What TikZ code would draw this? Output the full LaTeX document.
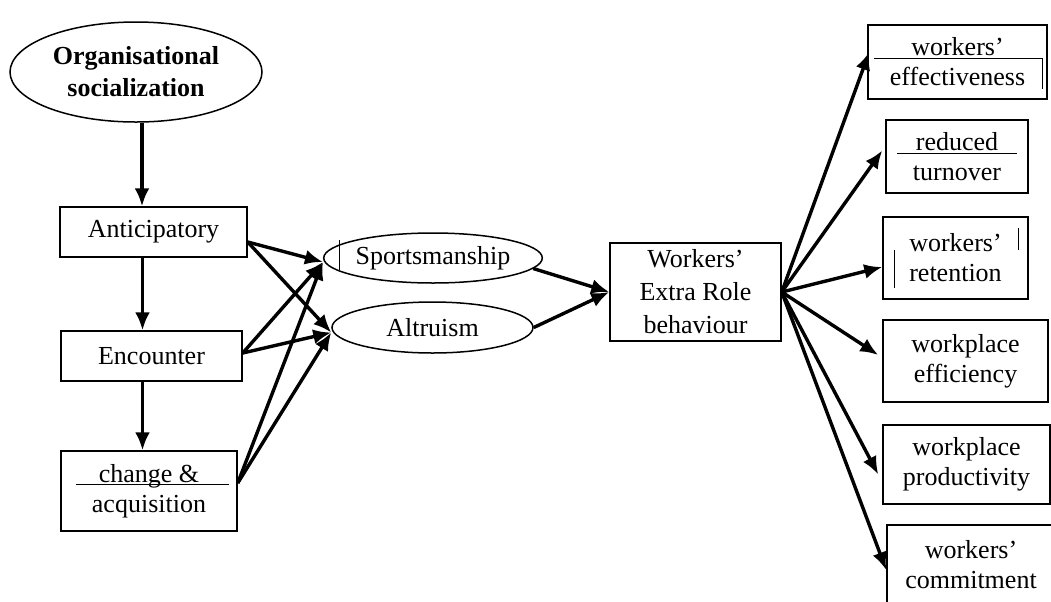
\documentclass[tikz,border=0pt]{standalone}
\usepackage{fontspec}
\setmainfont{Liberation Serif}
\usetikzlibrary{shapes.geometric,arrows.meta}
\tikzset{
  box/.style={draw,line width=0.75pt,align=center,inner sep=0pt,font=\fontsize{13}{15}\selectfont},
  oval/.style={box,ellipse},
  link/.style={line width=1.7pt,-{Latex[length=9pt,width=7.5pt]}},
  stray/.style={line width=0.4pt}
}
\begin{document}
\begin{tikzpicture}[x=0.5pt,y=-0.5pt]
    \useasboundingbox (0,0) rectangle (1051,601);

    \node[oval,minimum width=126pt,minimum height=50pt,font=\fontsize{13}{16}\selectfont\bfseries] (org) at (136,72) {Organisational\\socialization};
    \node[box,minimum width=93.5pt,minimum height=25pt] (antic) at (153.5,232) {Anticipatory};
    \node[box,minimum width=90.5pt,minimum height=25pt] (enc) at (151.5,356) {Encounter};
    \node[box,minimum width=88pt,minimum height=40pt] (chg) at (149,491) {change \&\\acquisition};

    \node[oval,minimum width=100pt,minimum height=25pt] (sport) at (433,258) {Sportsmanship};
    \node[oval,minimum width=100.5pt,minimum height=25.5pt] (alt) at (432.5,327.5) {Altruism};
    \node[box,minimum width=85.5pt,minimum height=49pt,font=\fontsize{13}{16.5}\selectfont] (wrb) at (695.5,292) {Workers’\\Extra Role\\behaviour};

    \node[box,minimum width=89.5pt,minimum height=37pt] (eff) at (957.5,62) {workers’\\effectiveness};
    \node[box,minimum width=71pt,minimum height=36.5pt] (turn) at (957,156.5) {reduced\\turnover};
    \node[box,minimum width=72.5pt,minimum height=41pt] (ret) at (955.5,258) {workers’\\retention};
    \node[box,minimum width=82.5pt,minimum height=41pt] (effi) at (965.5,361) {workplace\\efficiency};
    \node[box,minimum width=83.5pt,minimum height=39.5pt] (prod) at (966.5,464.5) {workplace\\productivity};
    \node[box,minimum width=84pt,minimum height=40pt] (comm) at (971,565) {workers’\\commitment};

    \draw[link] ([xshift=3pt]org.south) -- ([xshift=3pt]org.south |- antic.north);
    \draw[link] ([xshift=-5.5pt]antic.south) -- ([xshift=-5.5pt]antic.south |- enc.north);
    \draw[link] ([xshift=-4.5pt]enc.south) -- ([xshift=-4.5pt]enc.south |- chg.north);

    \coordinate (sportin) at ([yshift=-2pt]sport.west);
    \coordinate (altin) at ([yshift=-2.5pt]alt.west);
    \draw[link] ([yshift=-5pt]antic.east) -- (sportin);
    \draw[link] ([yshift=-5pt]antic.east) -- (altin);
    \draw[link] ([yshift=1.5pt]enc.east) -- (sportin);
    \draw[link] ([yshift=1.5pt]enc.east) -- (altin);
    \draw[link] ([yshift=4pt]chg.east) -- (sportin);
    \draw[link] ([yshift=4pt]chg.east) -- (altin);

    \draw[link] (sport.-6) -- (wrb.west);
    \draw[link] (alt.east) -- (wrb.west);

    \draw[link] (wrb.east) -- ([xshift=1pt,yshift=5pt]eff.west);
    \draw[link] (wrb.east) -- ([xshift=-1.5pt,yshift=3pt]turn.west);
    \draw[link] (wrb.east) -- ([yshift=-4.5pt]ret.west);
    \draw[link] (wrb.east) -- ([xshift=-2pt,yshift=3pt]effi.west);
    \draw[link] (wrb.east) -- ([xshift=-2pt,yshift=-5pt]prod.west);
    \draw[link] (wrb.east) -- ([yshift=-2.5pt]comm.west);

    \draw[stray] (76,484) -- (229,484);
    \draw[stray] (339,240) -- (339,270);
    \draw[stray] (874,58) -- (1042,58) -- (1042,89);
    \draw[stray] (897,153) -- (1017,153);
    \draw[stray] (894,250) -- (894,288);
    \draw[stray] (1018,228) -- (1018,250);
    \draw[stray] (1050,435) -- (1050,457);
\end{tikzpicture}
\end{document}
